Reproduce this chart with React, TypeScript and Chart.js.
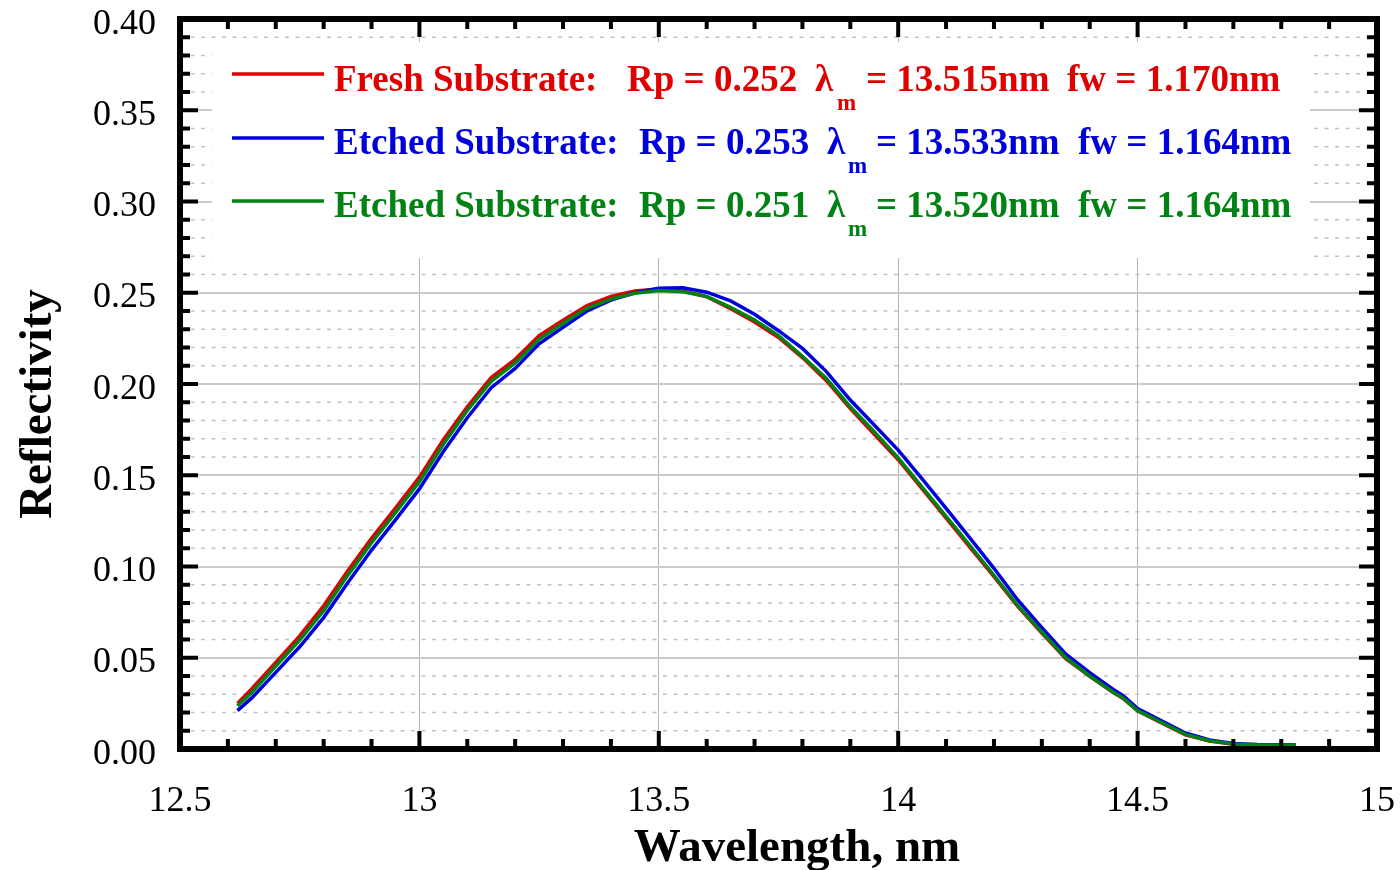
import React, { useEffect, useRef } from "react";
import { Chart, registerables } from "chart.js";

Chart.register(...registerables);

// ---------- data ----------
const wavelengths = [
  12.62, 12.65, 12.7, 12.75, 12.8, 12.85, 12.9, 12.95, 13.0, 13.05, 13.1, 13.15,
  13.2, 13.25, 13.3, 13.35, 13.4, 13.45, 13.5, 13.55, 13.6, 13.65, 13.7, 13.75,
  13.8, 13.85, 13.9, 13.95, 14.0, 14.05, 14.1, 14.15, 14.2, 14.25, 14.3, 14.35,
  14.4, 14.45, 14.47, 14.5, 14.55, 14.6, 14.65, 14.7, 14.75, 14.8, 14.83,
];

const freshReflectivity = [
  0.025, 0.033, 0.0475, 0.062, 0.0785, 0.0975, 0.1155, 0.132, 0.149, 0.1695, 0.1875, 0.2035,
  0.2135, 0.2265, 0.235, 0.243, 0.248, 0.251, 0.252, 0.251, 0.2478, 0.2412, 0.234, 0.2255,
  0.2145, 0.2018, 0.1865, 0.1725, 0.1585, 0.1425, 0.1265, 0.1105, 0.0945, 0.078, 0.0635, 0.0495,
  0.0398, 0.0308, 0.0276, 0.0209, 0.0143, 0.0078, 0.0044, 0.0026, 0.0021, 0.0021, 0.0021,
];

const etchedReflectivityA = [
  0.021, 0.028, 0.042, 0.056, 0.072, 0.091, 0.109, 0.1255, 0.1425, 0.163, 0.1815, 0.198,
  0.2085, 0.222, 0.231, 0.24, 0.246, 0.25, 0.2525, 0.2527, 0.2503, 0.2455, 0.2382, 0.2292,
  0.2195, 0.2068, 0.1912, 0.1775, 0.1638, 0.148, 0.1318, 0.1155, 0.099, 0.0815, 0.0665, 0.052,
  0.0418, 0.0325, 0.0292, 0.0222, 0.0155, 0.0088, 0.005, 0.003, 0.0024, 0.0023, 0.0022,
];

const etchedReflectivityB = [
  0.0237, 0.031, 0.0455, 0.0597, 0.0758, 0.095, 0.113, 0.1295, 0.1465, 0.167, 0.1855, 0.2015,
  0.2115, 0.2245, 0.2333, 0.2415, 0.2465, 0.2497, 0.2512, 0.2505, 0.248, 0.242, 0.235, 0.2265,
  0.2152, 0.203, 0.1875, 0.1738, 0.1595, 0.1435, 0.1275, 0.1115, 0.0952, 0.0785, 0.064, 0.05,
  0.04, 0.031, 0.0278, 0.021, 0.0145, 0.008, 0.0045, 0.0027, 0.0022, 0.0022, 0.0022,
];

const xTickValues = [12.5, 13, 13.5, 14, 14.5, 15];
const xTickLabels = ["12.5", "13", "13.5", "14", "14.5", "15"];
const yTickValues = [0, 0.05, 0.1, 0.15, 0.2, 0.25, 0.3, 0.35, 0.4];
const yTickLabels = ["0.00", "0.05", "0.10", "0.15", "0.20", "0.25", "0.30", "0.35", "0.40"];

const seriesNames = ["Fresh Substrate:", "Etched Substrate:", "Etched Substrate:"];
const rpValues = ["0.252", "0.253", "0.251"];
const peakWavelengths = ["13.515", "13.533", "13.520"];
const fwValues = ["1.170", "1.164", "1.164"];
const seriesColors = ["#e00000", "#0000dc", "#008214"];

const xTitle = "Wavelength, nm";
const yTitle = "Reflectivity";

const SERIF = "'Liberation Serif', 'Times New Roman', Times, serif";

// legend text x positions per row: [name, Rp, lambda, sub m, "=", fw]
const legendCols = [
  [334, 627, 815, 837, 866, 1067],
  [334, 639, 827, 848, 876, 1078],
  [334, 639, 827, 848, 876, 1078],
];
const legendBaselines = [91, 153.5, 217];
const legendLineY = [74, 138, 201];

const decorPlugin = {
  id: "decor",
  beforeDatasetsDraw(chart: any) {
    const { ctx, chartArea: a, scales } = chart;
    const y = scales.y;
    ctx.save();
    // minor dashed horizontal grid
    ctx.strokeStyle = "#c2c2c2";
    ctx.lineWidth = 1.5;
    ctx.setLineDash([4, 6.5]);
    for (let i = 1; i < 40; i++) {
      if (i % 5 === 0) continue;
      const py = y.getPixelForValue(i / 100);
      ctx.beginPath();
      ctx.moveTo(a.left, py);
      ctx.lineTo(a.right, py);
      ctx.stroke();
    }
    ctx.setLineDash([]);
    // legend box
    ctx.fillStyle = "#ffffff";
    ctx.fillRect(212, 42, 1310 - 212, 258 - 42);
    // legend entries
    for (let r = 0; r < 3; r++) {
      const c = seriesColors[r];
      const cols = legendCols[r];
      const bl = legendBaselines[r];
      ctx.strokeStyle = c;
      ctx.lineWidth = 3.5;
      ctx.beginPath();
      ctx.moveTo(232, legendLineY[r]);
      ctx.lineTo(324, legendLineY[r]);
      ctx.stroke();
      ctx.fillStyle = c;
      ctx.textAlign = "left";
      ctx.textBaseline = "alphabetic";
      ctx.font = `bold 37px ${SERIF}`;
      ctx.fillText(seriesNames[r], cols[0], bl);
      ctx.fillText(`Rp = ${rpValues[r]}`, cols[1], bl);
      ctx.fillText("λ", cols[2], bl);
      ctx.fillText(`= ${peakWavelengths[r]}nm`, cols[4], bl);
      ctx.fillText(`fw = ${fwValues[r]}nm`, cols[5], bl);
      ctx.font = `bold 23px ${SERIF}`;
      ctx.fillText("m", cols[3], bl + 19);
    }
    ctx.restore();
  },
  afterDraw(chart: any) {
    const { ctx, chartArea: a, scales } = chart;
    const x = scales.x;
    const y = scales.y;
    ctx.save();
    ctx.strokeStyle = "#000";
    // ticks
    ctx.lineWidth = 4;
    const MAJ = 18;
    const MIN = 10;
    for (let i = 126; i < 150; i++) {
      const v = i / 10;
      const major = i % 5 === 0;
      const px = x.getPixelForValue(v);
      const len = major ? MAJ : MIN;
      ctx.beginPath();
      ctx.moveTo(px, a.bottom);
      ctx.lineTo(px, a.bottom - len);
      ctx.moveTo(px, a.top);
      ctx.lineTo(px, a.top + len);
      ctx.stroke();
    }
    for (let i = 1; i < 40; i++) {
      const major = i % 5 === 0;
      const py = y.getPixelForValue(i / 100);
      const len = major ? MAJ : MIN;
      ctx.beginPath();
      ctx.moveTo(a.left, py);
      ctx.lineTo(a.left + len, py);
      ctx.moveTo(a.right, py);
      ctx.lineTo(a.right - len, py);
      ctx.stroke();
    }
    // frame
    ctx.lineWidth = 6;
    ctx.strokeRect(a.left, a.top, a.right - a.left, a.bottom - a.top);
    // tick labels
    ctx.fillStyle = "#000";
    ctx.font = `36px ${SERIF}`;
    ctx.textBaseline = "alphabetic";
    ctx.textAlign = "right";
    yTickValues.forEach((v, i) => {
      ctx.fillText(yTickLabels[i], a.left - 24, y.getPixelForValue(v) + 14.5);
    });
    ctx.textAlign = "center";
    xTickValues.forEach((v, i) => {
      ctx.fillText(xTickLabels[i], x.getPixelForValue(v), 811);
    });
    // titles
    ctx.font = `bold 47px ${SERIF}`;
    ctx.textAlign = "center";
    ctx.fillText(xTitle, 797, 861);
    ctx.save();
    ctx.translate(51, 404);
    ctx.rotate(-Math.PI / 2);
    ctx.fillText(yTitle, 0, 0);
    ctx.restore();
    ctx.restore();
  },
};

export default function App() {
  const canvasRef = useRef<HTMLCanvasElement | null>(null);

  useEffect(() => {
    if (!canvasRef.current) return;
    const mk = (vals: number[]) => wavelengths.map((w, i) => ({ x: w, y: vals[i] }));
    const chart = new Chart(canvasRef.current, {
      type: "line",
      data: {
        datasets: [
          {
            label: seriesNames[0],
            data: mk(freshReflectivity),
            borderColor: seriesColors[0],
            borderWidth: 3.5,
            pointRadius: 0,
            tension: 0,
            fill: false,
            order: 3,
          },
          {
            label: seriesNames[1],
            data: mk(etchedReflectivityA),
            borderColor: seriesColors[1],
            borderWidth: 3.5,
            pointRadius: 0,
            tension: 0,
            fill: false,
            order: 2,
          },
          {
            label: seriesNames[2],
            data: mk(etchedReflectivityB),
            borderColor: seriesColors[2],
            borderWidth: 3.5,
            pointRadius: 0,
            tension: 0,
            fill: false,
            order: 1,
          },
        ],
      },
      options: {
        animation: false,
        responsive: false,
        maintainAspectRatio: false,
        devicePixelRatio: 1,
        events: [],
        layout: { padding: { left: 0, top: 19, right: 23, bottom: 0 } },
        plugins: {
          legend: { display: false },
          tooltip: { enabled: false },
        },
        scales: {
          x: {
            type: "linear",
            min: 12.5,
            max: 15,
            ticks: { display: false, stepSize: 0.5 },
            grid: { color: "#b4b4b4", lineWidth: 1, drawTicks: false },
            border: { display: false },
            afterFit: (s: any) => {
              s.height = 121;
            },
          },
          y: {
            type: "linear",
            min: 0,
            max: 0.4,
            ticks: { display: false, stepSize: 0.05 },
            grid: { color: "#cacaca", lineWidth: 2, drawTicks: false },
            border: { display: false },
            afterFit: (s: any) => {
              s.width = 180;
            },
          },
        },
      },
      plugins: [decorPlugin],
    });
    return () => chart.destroy();
  }, []);

  return (
    <div
      style={{
        position: "absolute",
        left: 0,
        top: 0,
        width: 1400,
        height: 870,
        background: "#fff",
      }}
    >
      <canvas ref={canvasRef} width={1400} height={870} style={{ display: "block" }} />
    </div>
  );
}
